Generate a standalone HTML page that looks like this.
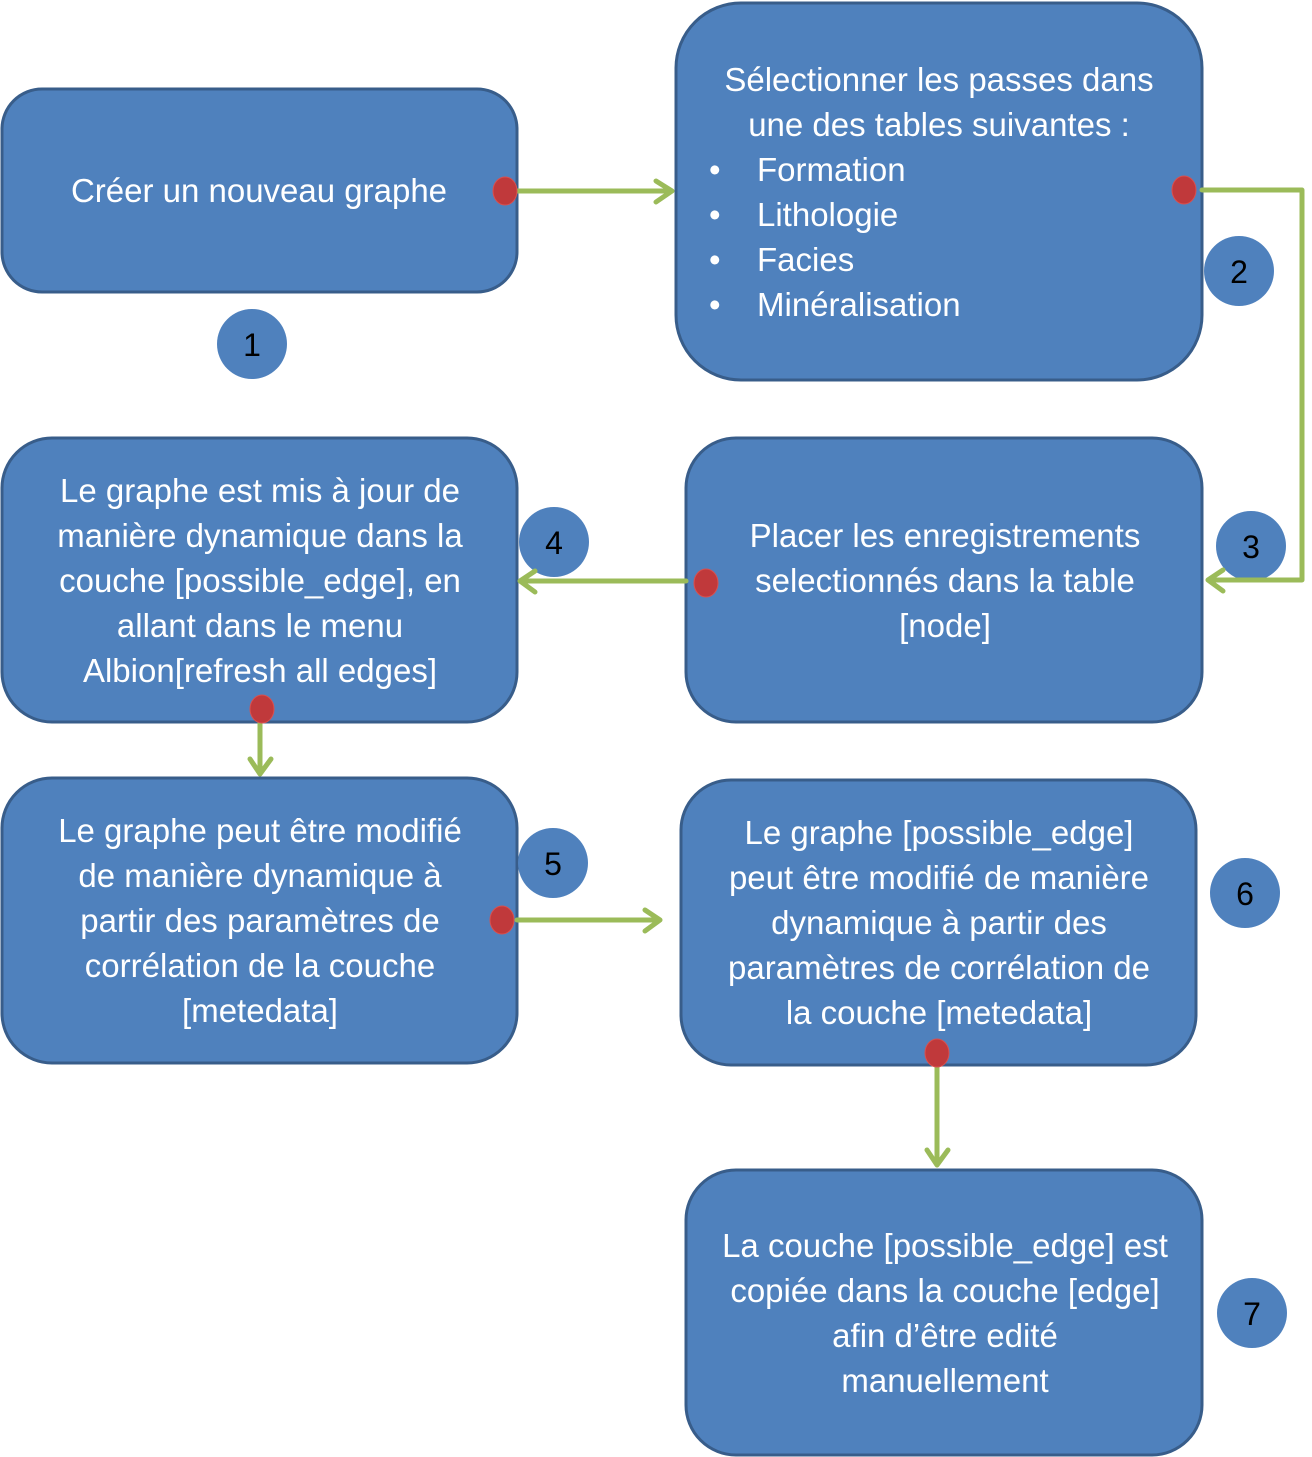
<!DOCTYPE html>
<html><head><meta charset="utf-8"><style>
html,body{margin:0;padding:0;background:#fff;}
svg{display:block;}
text{font-family:"Liberation Sans",sans-serif;}
.t{fill:#fff;font-size:33px;text-anchor:middle;}
.n{fill:#000;font-size:32px;text-anchor:middle;}
.b{fill:#4f81bd;stroke:#385d8a;stroke-width:3;}
.c{fill:#4f81bd;}
.a{fill:none;stroke:#9bbb59;stroke-width:5;stroke-linecap:round;stroke-linejoin:round;}
.d{fill:#c0393b;stroke:#d9504f;stroke-width:1;}
</style></head><body>
<svg width="1312" height="1457" viewBox="0 0 1312 1457">
<rect class="b" x="2" y="89" width="515" height="203" rx="40"/>
<rect class="b" x="676" y="3" width="526" height="377" rx="65"/>
<rect class="b" x="686" y="438" width="516" height="284" rx="50"/>
<rect class="b" x="2" y="438" width="515" height="284" rx="50"/>
<rect class="b" x="2" y="778" width="515" height="285" rx="50"/>
<rect class="b" x="681" y="780" width="515" height="285" rx="50"/>
<rect class="b" x="686" y="1170" width="516" height="285" rx="50"/>

<circle class="c" cx="252" cy="344" r="35"/><text class="n" x="252" y="356">1</text>
<circle class="c" cx="1239" cy="271" r="35"/><text class="n" x="1239" y="283">2</text>
<circle class="c" cx="1251" cy="546" r="35"/><text class="n" x="1251" y="558">3</text>
<circle class="c" cx="554" cy="542" r="35"/><text class="n" x="554" y="554">4</text>
<circle class="c" cx="553" cy="863" r="35"/><text class="n" x="553" y="875">5</text>
<circle class="c" cx="1245" cy="893" r="35"/><text class="n" x="1245" y="905">6</text>
<circle class="c" cx="1252" cy="1313" r="35"/><text class="n" x="1252" y="1325">7</text>

<path class="a" d="M517 191 H672 M656 181 L672 191 L656 202"/>
<path class="a" d="M1202 190 H1302 V580 H1208 M1223 570 L1208 580 L1223 591"/>
<path class="a" d="M686 581 H520 M535 571 L520 581 L535 592"/>
<path class="a" d="M260 722 V774 M250 759 L260 774 L271 759"/>
<path class="a" d="M517 920 H660 M645 910 L660 920 L645 931"/>
<path class="a" d="M937 1065 V1165 M927 1150 L937 1165 L948 1150"/>

<ellipse class="d" cx="505" cy="191" rx="12" ry="14"/>
<ellipse class="d" cx="1184" cy="190" rx="12" ry="14"/>
<ellipse class="d" cx="706" cy="583" rx="12" ry="14"/>
<ellipse class="d" cx="262" cy="709" rx="12" ry="14"/>
<ellipse class="d" cx="502" cy="920" rx="12" ry="14"/>
<ellipse class="d" cx="937" cy="1053" rx="12" ry="14"/>

<text class="t" x="259" y="202">Créer un nouveau graphe</text>

<text class="t" x="939" y="91">Sélectionner les passes dans</text>
<text class="t" x="939" y="136">une des  tables suivantes :</text>
<g style="fill:#fff;font-size:33px;">
<text x="709" y="181">•</text><text x="757" y="181">Formation</text>
<text x="709" y="226">•</text><text x="757" y="226">Lithologie</text>
<text x="709" y="271">•</text><text x="757" y="271">Facies</text>
<text x="709" y="316">•</text><text x="757" y="316">Minéralisation</text>
</g>

<text class="t" x="945" y="547">Placer les enregistrements</text>
<text class="t" x="945" y="592">selectionnés  dans la table</text>
<text class="t" x="945" y="637">[node]</text>

<text class="t" x="260" y="502">Le graphe est mis à jour de</text>
<text class="t" x="260" y="547">manière dynamique dans la</text>
<text class="t" x="260" y="592">couche [possible_edge], en</text>
<text class="t" x="260" y="637">allant dans le menu</text>
<text class="t" x="260" y="682">Albion[refresh all edges]</text>

<text class="t" x="260" y="842">Le graphe peut être modifié</text>
<text class="t" x="260" y="887">de manière dynamique à</text>
<text class="t" x="260" y="932">partir des paramètres de</text>
<text class="t" x="260" y="977">corrélation de la couche</text>
<text class="t" x="260" y="1022">[metedata]</text>

<text class="t" x="939" y="844">Le graphe [possible_edge]</text>
<text class="t" x="939" y="889">peut être modifié de manière</text>
<text class="t" x="939" y="934">dynamique à partir des</text>
<text class="t" x="939" y="979">paramètres de corrélation de</text>
<text class="t" x="939" y="1024">la couche [metedata]</text>

<text class="t" x="945" y="1257">La couche [possible_edge] est</text>
<text class="t" x="945" y="1302">copiée dans la couche [edge]</text>
<text class="t" x="945" y="1347">afin d’être edité</text>
<text class="t" x="945" y="1392">manuellement</text>
</svg>
</body></html>
